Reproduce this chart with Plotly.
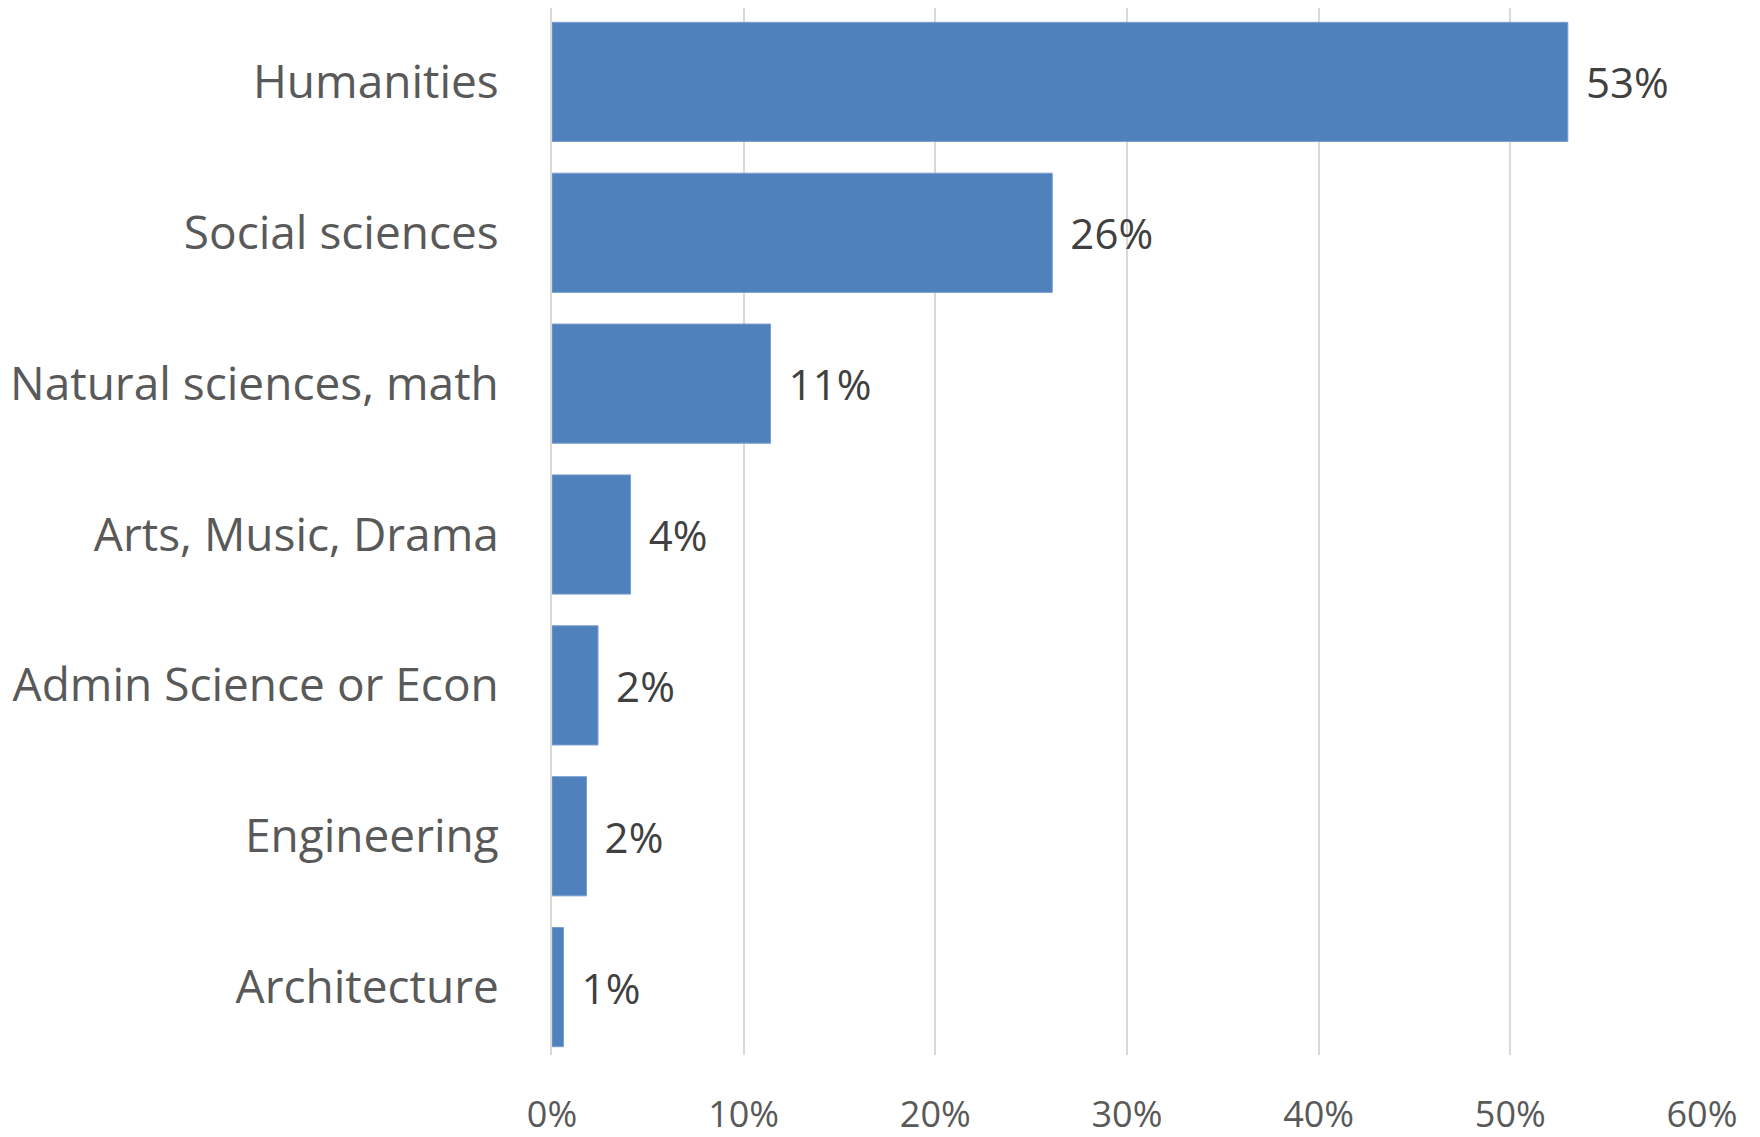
import plotly.graph_objects as go

# fields of study, top to bottom as in the chart
fields = ["Humanities", "Social sciences", "Natural sciences, math",
          "Arts, Music, Drama", "Admin Science or Econ", "Engineering",
          "Architecture"]
shares = [0.53, 0.261, 0.114, 0.041, 0.024, 0.018, 0.006]
tick_vals = [0, 0.1, 0.2, 0.3, 0.4, 0.5, 0.6]
tick_text = ["0%", "10%", "20%", "30%", "40%", "50%", "60%"]

fig = go.Figure()
fig.add_trace(go.Bar(
    x=shares,
    y=fields,
    orientation="h",
    marker=dict(color="#4F81BD", line=dict(color="#7A9FD0", width=1)),
    texttemplate="\u00a0\u200a%{x:.0%}",
    textposition="outside",
    cliponaxis=False,
    textfont=dict(family="Open Sans", size=42, color="#404040"),
))

fig.update_layout(
    width=1760,
    height=1137,
    margin=dict(l=552, r=58, t=8, b=82),
    paper_bgcolor="white",
    plot_bgcolor="white",
    bargap=0.21,
    showlegend=False,
    font=dict(family="Open Sans", color="#595959"),
)
fig.update_xaxes(
    range=[0, 0.6],
    tickvals=tick_vals,
    ticktext=tick_text,
    showgrid=True,
    gridcolor="#D9D9D9",
    gridwidth=2,
    zeroline=False,
    showline=False,
    ticks="outside",
    ticklen=28,
    tickcolor="rgba(0,0,0,0)",
    tickfont=dict(size=36, color="#595959"),
    automargin=False,
)
fig.update_yaxes(
    categoryorder="array",
    categoryarray=fields,
    range=[6.45, -0.49],
    showgrid=False,
    showline=True,
    linecolor="#D9D9D9",
    linewidth=2,
    ticks="outside",
    ticklen=42,
    tickcolor="rgba(0,0,0,0)",
    tickfont=dict(size=46, color="#595959"),
    automargin=False,
)

# drop the default body margin so the figure fills the window exactly
fig.write_html("out.html", config={"displayModeBar": False},
               post_script="document.body.style.margin = '0';")
